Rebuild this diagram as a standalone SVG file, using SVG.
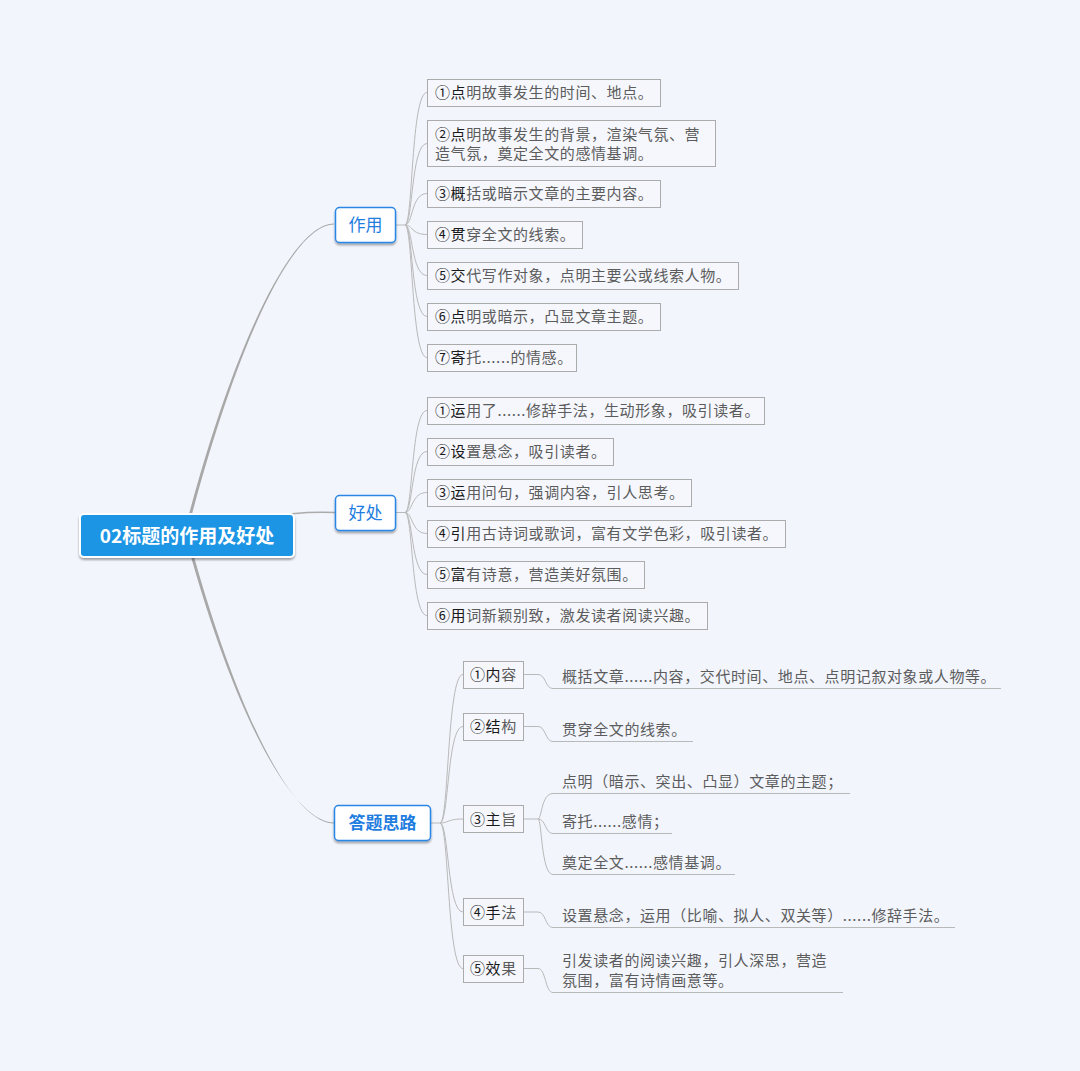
<svg xmlns="http://www.w3.org/2000/svg" width="1080" height="1071" viewBox="0 0 1080 1071">
<defs>
<filter id="sh" x="-20%" y="-30%" width="140%" height="170%"><feDropShadow dx="0" dy="2" stdDeviation="1.2" flood-color="#000" flood-opacity="0.35"/></filter>
</defs>
<style>
text{font-family:"Noto Sans CJK SC","Noto Sans",sans-serif;}
.leaf{fill:#f5f7fd;stroke:#ababab;stroke-width:1}
.lt{font-size:15px;letter-spacing:0.6px;fill:#5c5c5c}
.k{fill:#1a1a1a}
.con path{fill:none;stroke:#b9b9b9;stroke-width:1}
.con path.trunk{fill:#a8a8a8;stroke:none}
.main{fill:#fff;stroke:#2a86e5;stroke-width:1.5}
.mt{font-size:17px;fill:#1e7ddf;text-anchor:middle}
</style>
<rect width="1080" height="1071" fill="#f2f5fc"/>
<g id="connectors" class="con">
<path class="trunk" d="M188.5,516 C238.5,330 295,223.5 334,223.5 L334,224.5 C295,224.5 241.5,330 191.5,516 Z"/>
<path class="trunk" d="M190.5,555 C238.5,725 295,822.5 334,822.5 L334,823.5 C295,823.5 241.5,725 193.5,555 Z"/>
<path d="M260,518 Q300,511 335,512.5" style="stroke:#ababab;stroke-width:1.5"/>
<path d="M396,225 L405,225"/>
<path d="M405,225 C413,225 411,92.5 427,92.5"/>
<path d="M405,225 C413,225 411,143.5 427,143.5"/>
<path d="M405,225 C413,225 411,193.5 427,193.5"/>
<path d="M405,225 C413,225 411,234.5 427,234.5"/>
<path d="M405,225 C413,225 411,275.5 427,275.5"/>
<path d="M405,225 C413,225 411,316.5 427,316.5"/>
<path d="M405,225 C413,225 411,357.5 427,357.5"/>
<path d="M396,512.5 L405,512.5"/>
<path d="M405,512.5 C413,512.5 411,410.5 427,410.5"/>
<path d="M405,512.5 C413,512.5 411,451.5 427,451.5"/>
<path d="M405,512.5 C413,512.5 411,492.5 427,492.5"/>
<path d="M405,512.5 C413,512.5 411,533.5 427,533.5"/>
<path d="M405,512.5 C413,512.5 411,574.5 427,574.5"/>
<path d="M405,512.5 C413,512.5 411,615.5 427,615.5"/>
<path d="M431,823 L440,823"/>
<path d="M440,823 C449,823 447,674.5 463,674.5"/>
<path d="M440,823 C449,823 447,726.5 463,726.5"/>
<path d="M440,823 C449,823 447,819 463,819"/>
<path d="M440,823 C449,823 447,912 463,912"/>
<path d="M440,823 C449,823 447,968.5 463,968.5"/>
<path d="M523,674.5 L538,674.5 C546,674.5 545,688.5 553,688.5 L1001,688.5"/>
<path d="M523,726.5 L538,726.5 C546,726.5 545,741.5 553,741.5 L693,741.5"/>
<path d="M523,819 L538,819"/>
<path d="M538,819 C542,819 541,793.5 553,793.5 L850,793.5"/>
<path d="M538,819 C546,819 545,833.5 553,833.5 L672,833.5"/>
<path d="M538,819 C542,819 541,874.5 553,874.5 L735,874.5"/>
<path d="M523,912 L538,912 C546,912 545,927.5 553,927.5 L955,927.5"/>
<path d="M523,968.5 L538,968.5 C546,968.5 545,992.5 553,992.5 L843,992.5"/>
</g>
<g id="root">
<rect x="80" y="514" width="214" height="43" rx="4" fill="#1b95e5" stroke="#fff" stroke-width="2" filter="url(#sh)"/>
<text x="187" y="542.5" font-size="19" font-weight="bold" fill="#fff" text-anchor="middle">02标题的作用及好处</text>
</g>
<g id="n-zuoyong">
<rect class="main" x="335.5" y="207.5" width="60" height="35" rx="4" filter="url(#sh)"/>
<text class="mt" x="365.5" y="231">作用</text>
</g>
<g id="n-haochu">
<rect class="main" x="335.5" y="495.5" width="60" height="35" rx="4" filter="url(#sh)"/>
<text class="mt" x="365.5" y="519">好处</text>
</g>
<g id="n-siliu">
<rect class="main" x="334.5" y="805.5" width="96" height="35" rx="4" filter="url(#sh)"/>
<text class="mt" x="382.5" y="829" font-weight="bold">答题思路</text>
</g>
<g id="z1"><rect class="leaf" x="427.5" y="79.5" width="233" height="27"/><text class="lt" x="435" y="98"><tspan class="k">①点</tspan>明故事发生的时间、地点。</text></g>
<g id="z2"><rect class="leaf" x="427.5" y="120.5" width="288" height="46"/><text class="lt" x="435" y="140"><tspan class="k">②点</tspan>明故事发生的背景，渲染气氛、营</text><text class="lt" x="435" y="159">造气氛，奠定全文的感情基调。</text></g>
<g id="z3"><rect class="leaf" x="427.5" y="180.5" width="233" height="27"/><text class="lt" x="435" y="199"><tspan class="k">③概</tspan>括或暗示文章的主要内容。</text></g>
<g id="z4"><rect class="leaf" x="427.5" y="221.5" width="155" height="27"/><text class="lt" x="435" y="240"><tspan class="k">④贯</tspan>穿全文的线索。</text></g>
<g id="z5"><rect class="leaf" x="427.5" y="262.5" width="311" height="27"/><text class="lt" x="435" y="281"><tspan class="k">⑤交</tspan>代写作对象，点明主要公或线索人物。</text></g>
<g id="z6"><rect class="leaf" x="427.5" y="303.5" width="233" height="27"/><text class="lt" x="435" y="322"><tspan class="k">⑥点</tspan>明或暗示，凸显文章主题。</text></g>
<g id="z7"><rect class="leaf" x="427.5" y="344.5" width="149" height="27"/><text class="lt" x="435" y="363"><tspan class="k">⑦寄</tspan>托......的情感。</text></g>
<g id="h1"><rect class="leaf" x="427.5" y="397.5" width="337" height="27"/><text class="lt" x="435" y="416"><tspan class="k">①运</tspan>用了......修辞手法，生动形象，吸引读者。</text></g>
<g id="h2"><rect class="leaf" x="427.5" y="438.5" width="186" height="27"/><text class="lt" x="435" y="457"><tspan class="k">②设</tspan>置悬念，吸引读者。</text></g>
<g id="h3"><rect class="leaf" x="427.5" y="479.5" width="264" height="27"/><text class="lt" x="435" y="498"><tspan class="k">③运</tspan>用问句，强调内容，引人思考。</text></g>
<g id="h4"><rect class="leaf" x="427.5" y="520.5" width="358" height="27"/><text class="lt" x="435" y="539"><tspan class="k">④引</tspan>用古诗词或歌词，富有文学色彩，吸引读者。</text></g>
<g id="h5"><rect class="leaf" x="427.5" y="561.5" width="217" height="27"/><text class="lt" x="435" y="580"><tspan class="k">⑤富</tspan>有诗意，营造美好氛围。</text></g>
<g id="h6"><rect class="leaf" x="427.5" y="602.5" width="280" height="27"/><text class="lt" x="435" y="621"><tspan class="k">⑥用</tspan>词新颖别致，激发读者阅读兴趣。</text></g>
<g id="d1"><rect class="leaf" x="463.5" y="661.5" width="60" height="27"/><text class="lt" x="470" y="680"><tspan class="k">①内</tspan>容</text></g>
<g id="d2"><rect class="leaf" x="463.5" y="713.5" width="60" height="27"/><text class="lt" x="470" y="732"><tspan class="k">②结</tspan>构</text></g>
<g id="d3"><rect class="leaf" x="463.5" y="805.5" width="60" height="27"/><text class="lt" x="470" y="824.5"><tspan class="k">③主</tspan>旨</text></g>
<g id="d4"><rect class="leaf" x="463.5" y="898.5" width="60" height="27"/><text class="lt" x="470" y="917.5"><tspan class="k">④手</tspan>法</text></g>
<g id="d5"><rect class="leaf" x="463.5" y="955.5" width="60" height="27"/><text class="lt" x="470" y="974"><tspan class="k">⑤效</tspan>果</text></g>
<g id="t1"><text class="lt" x="562" y="681.5">概括文章......内容，交代时间、地点、点明记叙对象或人物等。</text></g>
<g id="t2"><text class="lt" x="562" y="734.5">贯穿全文的线索。</text></g>
<g id="t3a"><text class="lt" x="562" y="786.5">点明（暗示、突出、凸显）文章的主题；</text></g>
<g id="t3b"><text class="lt" x="562" y="827">寄托......感情；</text></g>
<g id="t3c"><text class="lt" x="562" y="867.5">奠定全文......感情基调。</text></g>
<g id="t4"><text class="lt" x="562" y="920.5">设置悬念，运用（比喻、拟人、双关等）......修辞手法。</text></g>
<g id="t5"><text class="lt" x="562" y="965.5">引发读者的阅读兴趣，引人深思，营造</text><text class="lt" x="562" y="985.5">氛围，富有诗情画意等。</text></g>
</svg>
